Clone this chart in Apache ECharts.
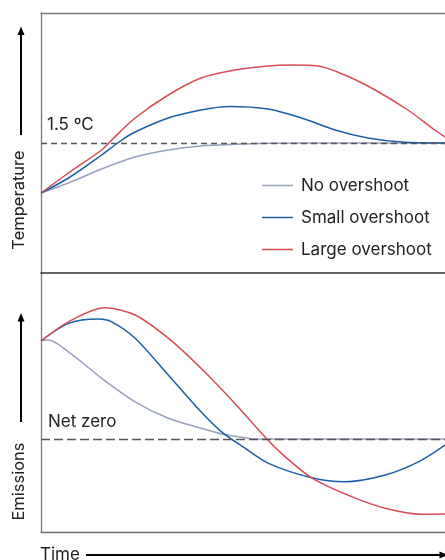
<!DOCTYPE html>
<html><head><meta charset="utf-8">
<script src="https://cdn.jsdelivr.net/npm/echarts@6/dist/echarts.min.js"></script>
<style>html,body{margin:0;padding:0;background:#fff}#c{width:445px;height:560px}</style>
</head><body><div id="c"></div>
<script>
// Scenario names
const scenarioNames = ['No overshoot', 'Small overshoot', 'Large overshoot'];
const scenarioColors = ['#96a1bd', '#1b5ea8', '#d64c55'];

// Temperature panel (time in arbitrary units 0..100, temperature in °C)
const tempNoT     = [0, 6.8, 15.0, 23.3, 31.5, 39.6, 48.0, 56.2, 64.0, 80, 100];
const tempNoV     = [1.00, 1.10, 1.24, 1.36, 1.43, 1.47, 1.487, 1.497, 1.50, 1.50, 1.50];
const tempSmallT  = [0, 6.8, 15.0, 20.0, 23.3, 31.5, 39.6, 46.5, 56.2, 64.5, 72.8, 80.9, 89.3, 100];
const tempSmallV  = [1.00, 1.15, 1.38, 1.53, 1.61, 1.75, 1.83, 1.865, 1.84, 1.75, 1.63, 1.55, 1.51, 1.50];
const tempLargeT  = [0, 6.8, 15.0, 17.5, 23.3, 31.5, 39.6, 48.0, 56.2, 62.1, 68.6, 75.2, 82.7, 90.8, 97.5, 100];
const tempLargeV  = [1.00, 1.20, 1.43, 1.53, 1.75, 1.98, 2.15, 2.23, 2.27, 2.28, 2.27, 2.18, 2.03, 1.83, 1.63, 1.56];
const tempLimit = 1.5;

// Emissions panel (arbitrary units, net zero = 0)
const emisNoT     = [0, 1.8, 6.8, 15.0, 23.3, 31.5, 39.6, 45.0, 50.5, 53.0, 70, 100];
const emisNoV     = [2.45, 2.475, 2.18, 1.52, 0.93, 0.52, 0.27, 0.12, 0.03, 0.0, 0.0, 0.0];
const emisSmallT  = [0, 6.8, 14.2, 17.5, 23.3, 31.5, 39.6, 44.7, 50.5, 56.3, 67.0, 75.2, 85.2, 93.4, 100];
const emisSmallV  = [2.45, 2.89, 3.00, 2.93, 2.52, 1.60, 0.68, 0.18, -0.23, -0.61, -0.97, -1.07, -0.90, -0.57, -0.15];
const emisLargeT  = [0, 6.8, 15.8, 23.3, 31.5, 39.6, 48.0, 55.9, 60.4, 67.0, 76.9, 85.2, 94.2, 100];
const emisLargeV  = [2.45, 2.93, 3.28, 3.10, 2.52, 1.77, 0.89, 0.0, -0.44, -0.97, -1.44, -1.73, -1.88, -1.875];
const netZero = 0;

const zip = (t, v) => t.map((x, i) => [x, v[i]]);
const FONT = 'Inter, "Noto Sans", sans-serif';

const chart = echarts.init(document.getElementById('c'), null, {renderer: 'canvas'});

function lineSeries(name, idx, xi, yi, data, extra) {
  return Object.assign({
    name: name, type: 'line', xAxisIndex: xi, yAxisIndex: yi,
    data: data, smooth: 0.3, symbol: 'none', silent: true,
    lineStyle: {color: scenarioColors[idx], width: 1.5},
    itemStyle: {color: scenarioColors[idx]}
  }, extra || {});
}

const hideAx = {axisTick: {show: false}, axisLabel: {show: false}, splitLine: {show: false}};

chart.setOption({
  animation: false,
  backgroundColor: '#fff',
  grid: [
    {left: 41, right: 0, top: 13, height: 260},
    {left: 41, right: 0, top: 273, height: 259}
  ],
  xAxis: [
    Object.assign({gridIndex: 0, type: 'value', min: 0, max: 100, position: 'top',
      axisLine: {show: true, onZero: false, lineStyle: {color: '#7a7a7a', width: 1.3}}}, hideAx),
    Object.assign({gridIndex: 0, type: 'value', min: 0, max: 100, position: 'bottom',
      axisLine: {show: true, onZero: false, lineStyle: {color: '#333', width: 1.6}}}, hideAx),
    Object.assign({gridIndex: 1, type: 'value', min: 0, max: 100, position: 'bottom',
      axisLine: {show: true, onZero: false, lineStyle: {color: '#6f6f6f', width: 1.3}}}, hideAx)
  ],
  yAxis: [
    Object.assign({gridIndex: 0, type: 'value', min: 0.2, max: 2.8,
      axisLine: {show: true, onZero: false, lineStyle: {color: '#7a7a7a', width: 1.3}}}, hideAx),
    Object.assign({gridIndex: 1, type: 'value', min: -2.325, max: 4.15,
      axisLine: {show: true, onZero: false, lineStyle: {color: '#7a7a7a', width: 1.3}}}, hideAx)
  ],
  legend: {
    left: 262, top: 177, orient: 'vertical', padding: 0, icon: 'rect',
    itemWidth: 31, itemHeight: 1.5, itemGap: 15,
    data: scenarioNames, selectedMode: false,
    textStyle: {fontFamily: FONT, fontSize: 17, color: '#222', padding: [0, 0, 0, 3]}
  },
  series: [
    lineSeries(scenarioNames[0], 0, 0, 0, zip(tempNoT, tempNoV)),
    lineSeries(scenarioNames[1], 1, 0, 0, zip(tempSmallT, tempSmallV)),
    lineSeries(scenarioNames[2], 2, 0, 0, zip(tempLargeT, tempLargeV), {
      markLine: {silent: true, symbol: 'none', label: {show: false},
        lineStyle: {color: '#555', width: 1.3, type: [6, 4]},
        data: [{yAxis: tempLimit}]}
    }),
    lineSeries(scenarioNames[0], 0, 2, 1, zip(emisNoT, emisNoV)),
    lineSeries(scenarioNames[1], 1, 2, 1, zip(emisSmallT, emisSmallV)),
    lineSeries(scenarioNames[2], 2, 2, 1, zip(emisLargeT, emisLargeV), {
      markLine: {silent: true, symbol: 'none', label: {show: false},
        lineStyle: {color: '#555', width: 1.3, type: [9, 4]},
        data: [{yAxis: netZero}]}
    })
  ],
  graphic: [
    {type: 'text', left: 47, top: 116.5, style: {text: '1.5 ºC', font: '17px ' + FONT, fill: '#222'}},
    {type: 'text', left: 48, top: 413.5, style: {text: 'Net zero', font: '17px ' + FONT, fill: '#222'}},
    {type: 'text', x: 19.5, y: 200, rotation: Math.PI / 2,
      style: {text: 'Temperature', font: '16.5px ' + FONT, fill: '#222', align: 'center', verticalAlign: 'middle'}},
    {type: 'text', x: 19.5, y: 481.5, rotation: Math.PI / 2,
      style: {text: 'Emissions', font: '16.5px ' + FONT, fill: '#222', align: 'center', verticalAlign: 'middle'}},
    {type: 'text', x: 40, y: 554.5,
      style: {text: 'Time', font: '17px ' + FONT, fill: '#222', align: 'left', verticalAlign: 'middle'}},
    // arrows
    {type: 'line', shape: {x1: 21, y1: 135, x2: 21, y2: 33}, style: {stroke: '#000', lineWidth: 2}},
    {type: 'polygon', shape: {points: [[21, 26.5], [17.5, 35], [24.5, 35]]}, style: {fill: '#000'}},
    {type: 'line', shape: {x1: 21, y1: 422, x2: 21, y2: 320}, style: {stroke: '#000', lineWidth: 2}},
    {type: 'polygon', shape: {points: [[21, 313], [17.5, 321.5], [24.5, 321.5]]}, style: {fill: '#000'}},
    {type: 'line', shape: {x1: 86, y1: 555, x2: 440, y2: 555}, style: {stroke: '#000', lineWidth: 2}},
    {type: 'polygon', shape: {points: [[448, 555], [439.5, 551.5], [439.5, 558.5]]}, style: {fill: '#000'}}
  ]
});
</script>
</body></html>
